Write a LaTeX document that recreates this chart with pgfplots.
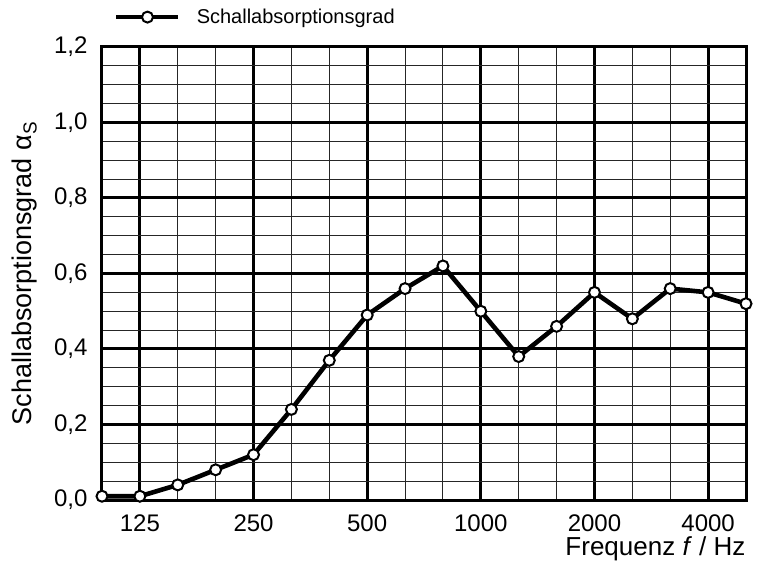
\documentclass[border=0pt]{standalone}
\usepackage{fontspec}
\setmainfont{Liberation Sans}
\usepackage{pgfplots}
\pgfplotsset{compat=1.18}
\begin{document}
\begin{tikzpicture}
\begin{axis}[
  scale only axis,
  width=644pt, height=453pt,
  xmin=0, xmax=17, ymin=0, ymax=1.2,
  clip=false,
  axis line style={line width=3pt},
  xtick={1,4,7,10,13,16},
  xticklabels={125,250,500,1000,2000,4000},
  minor xtick={0,...,17},
  ytick={0,0.2,0.4,0.6,0.8,1.0,1.2},
  yticklabels={{0,0},{0,2},{0,4},{0,6},{0,8},{1,0},{1,2}},
  minor ytick={0,0.05,...,1.2},
  major tick length=0pt, minor tick length=0pt,
  grid=both,
  major grid style={line width=3pt, black},
  minor grid style={line width=1pt, black!85},
  tick label style={font=\fontsize{24}{28}\selectfont},
  xticklabel style={yshift=-11pt},
  yticklabel style={xshift=-11pt},
  xlabel={Frequenz \textit{f} / Hz},
  xlabel style={font=\fontsize{26}{30}\selectfont, at={(rel axis cs:1,0)}, anchor=east, yshift=-49pt, xshift=3pt},
  ylabel={Schallabsorptionsgrad α\textsubscript{S}},
  ylabel style={font=\fontsize{27}{31}\selectfont, at={(rel axis cs:0,0.5)}, anchor=center, yshift=77pt},
  legend style={draw=none, fill=none, at={(rel axis cs:0.0186,1.066)}, anchor=west, inner sep=0pt, font=\fontsize{20}{24}\selectfont,
    /tikz/every odd column/.append style={column sep=14pt}},
  legend cell align=left,
  legend image code/.code={\draw[mark repeat=2,mark phase=2,#1] plot coordinates {(0pt,0pt) (31pt,0pt) (62pt,0pt)};},
]
\addplot[black, line width=4.6pt, mark=*, mark size=5.5pt, mark options={fill=white, draw=black, line width=2pt}]
 coordinates {
 (0,0.01) (1,0.01) (2,0.04) (3,0.08) (4,0.12) (5,0.24) (6,0.37) (7,0.49) (8,0.56)
 (9,0.62) (10,0.50) (11,0.38) (12,0.46) (13,0.55) (14,0.48) (15,0.56) (16,0.55) (17,0.52)
 };
\addlegendentry{Schallabsorptionsgrad}
\end{axis}
\path (current axis.south west) ++(-102pt,-64pt) coordinate (bbA);
\path (current axis.north east) ++(11pt,47pt) coordinate (bbB);
\path (bbA) rectangle (bbB);
\end{tikzpicture}
\end{document}
